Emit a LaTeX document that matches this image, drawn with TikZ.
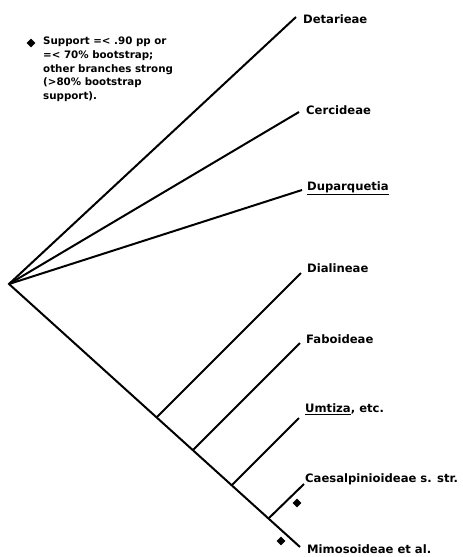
\documentclass[tikz,border=0pt]{standalone}
\usepackage{fontspec}
\setmainfont{DejaVu Sans}
\usetikzlibrary{shapes.geometric}

\begin{document}
\begin{tikzpicture}[
        x=1pt, y=-1pt,
        branch/.style={line width=2pt},
        taxon/.style={anchor=west, inner sep=0pt, font=\fontsize{11.6}{14}\selectfont\bfseries},
        weak/.style={diamond, fill=black, minimum size=9pt, inner sep=0pt},
        legend/.style={anchor=north west, align=left, inner sep=0pt, font=\fontsize{10.3}{13.6}\selectfont\bfseries}
    ]
        \useasboundingbox (0,0) rectangle (463,557);

        % Root and nodes on the backbone
        \coordinate (root) at (9,284);
        \coordinate (n1) at (157,417);
        \coordinate (n2) at (193,450);
        \coordinate (n3) at (232,485);
        \coordinate (n4) at (269,518);

        % Tips
        \coordinate (t1) at (296,17);
        \coordinate (t2) at (299,112);
        \coordinate (t3) at (302,190);
        \coordinate (t4) at (301,273);
        \coordinate (t5) at (300,343);
        \coordinate (t6) at (299,418);
        \coordinate (t7) at (304,484);
        \coordinate (t8) at (300,547);

        % Taxon labels
        \node[taxon] (detarieae) at (303,19) {Detarieae};
        \node[taxon] (cercideae) at (306,110) {Cercideae};
        \node[taxon] (duparquetia) at (307,188) {\underline{Duparquetia}};
        \node[taxon] (dialineae) at (307,268) {Dialineae};
        \node[taxon] (faboideae) at (306,339) {Faboideae};
        \node[taxon] (umtiza) at (305,409) {\underline{Umtiza}, etc.};
        \node[taxon] (caesalp) at (305,479) {Caesalpinioideae s. str.};
        \node[taxon] (mimos) at (307,549) {Mimosoideae et al.};

        % Branches
        \draw[branch] (t1) -- (root) -- (t8);
        \draw[branch] (root) -- (t2);
        \draw[branch] (root) -- (t3);
        \foreach \n/\t in {n1/t4, n2/t5, n3/t6, n4/t7} {
            \draw[branch] (\n) -- (\t);
        }

        % Weakly supported branches
        \node[weak] (w1) at (297,503) {};
        \node[weak] (w2) at (281,541) {};

        % Legend
        \node[weak] (key) at (31,43) {};
        \node[legend] (keytext) at (43,37) {Support =< .90 pp or\\=< 70\% bootstrap;\\other branches strong\\(>80\% bootstrap\\support).};
    \end{tikzpicture}
\end{document}
